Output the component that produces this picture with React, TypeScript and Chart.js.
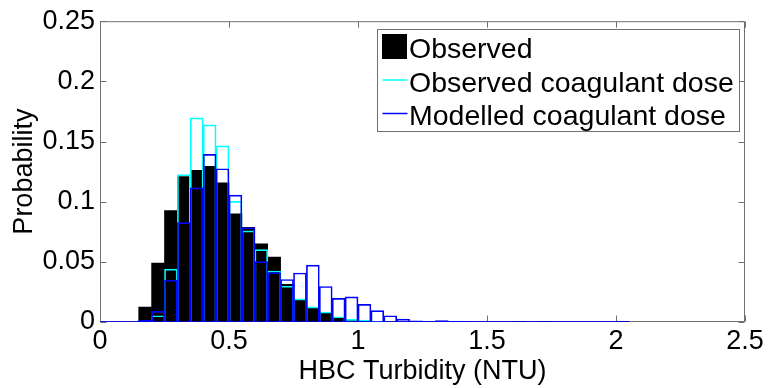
import React, { useEffect, useRef } from 'react';
import { Chart, registerables } from 'chart.js';

Chart.register(...registerables);

// ---- data ----
const binStarts = [
  0, 0.05, 0.1, 0.15, 0.2, 0.25, 0.3, 0.35, 0.4, 0.45,
  0.5, 0.55, 0.6, 0.65, 0.7, 0.75, 0.8, 0.85, 0.9, 0.95,
  1.0, 1.05, 1.1, 1.15, 1.2, 1.25, 1.3, 1.35, 1.4, 1.45,
  1.5, 1.55, 1.6, 1.65, 1.7, 1.75, 1.8, 1.85, 1.9, 1.95,
  2.0,
];
const binWidth = 0.05;

const observed = [
  0, 0, 0, 0.0123, 0.049, 0.0927, 0.1208, 0.1261, 0.1294, 0.1156,
  0.0898, 0.0787, 0.065, 0.0539, 0.0314, 0.0182, 0.0118, 0.0072, 0.0036, 0.0022,
  0.0008, 0.0004, 0, 0, 0, 0, 0, 0, 0, 0,
  0, 0, 0.0005, 0, 0.0005, 0, 0, 0, 0, 0,
  0.0005,
];

const observedDose = [
  0, 0, 0, 0, 0.0052, 0.044, 0.1225, 0.1696, 0.1638, 0.1464,
  0.1002, 0.0757, 0.0601, 0.0424, 0.0297, 0.0192, 0.0126, 0.0083, 0.0044, 0.0022,
  0.0016, 0.0005, 0, 0, 0, 0, 0, 0, 0, 0,
  0, 0, 0, 0, 0, 0, 0, 0, 0, 0,
  0,
];

const modelledDose = [
  0, 0, 0, 0.0015, 0.0088, 0.0347, 0.0826, 0.1115, 0.1393, 0.1274,
  0.1055, 0.0785, 0.0502, 0.0411, 0.0353, 0.0407, 0.0473, 0.0295, 0.0196, 0.0209,
  0.0146, 0.0094, 0.0052, 0.0024, 0.001, 0.0004, 0.0011, 0.0005, 0.0003, 0,
  0, 0, 0, 0, 0, 0, 0, 0, 0, 0,
  0,
];

const baselineExtent = [0, 2.05];

const xTickValues = [0, 0.5, 1, 1.5, 2, 2.5];
const xTickLabels = ['0', '0.5', '1', '1.5', '2', '2.5'];
const yTickValues = [0, 0.05, 0.1, 0.15, 0.2, 0.25];
const yTickLabels = ['0', '0.05', '0.1', '0.15', '0.2', '0.25'];

const legendLabels = ['Observed', 'Observed coagulant dose', 'Modelled coagulant dose'];
const xTitle = 'HBC Turbidity (NTU)';
const yTitle = 'Probability';

// ---- styles ----
const FONT = '"Liberation Sans", Arial, Helvetica, sans-serif';
const BLACK = '#000000';
const CYAN = '#00ffff';
const BLUE = '#0000ff';
const FRAME = '#707070';

const toPoints = (vals: number[]) =>
  binStarts.map((s, i) => ({ x: s + binWidth / 2, y: vals[i] }));

const framePlugin = {
  id: 'matlabFrame',
  beforeDatasetsDraw(chart: any) {
    const { ctx, chartArea: a, scales } = chart;
    const L = a.left + 0.5;
    const R = a.right - 0.5;
    const T = a.top + 0.5;
    const B = a.bottom - 0.5;
    const tl = 6;
    ctx.save();
    ctx.strokeStyle = FRAME;
    ctx.lineWidth = 1;
    ctx.strokeRect(L, T, R - L, B - T);
    ctx.beginPath();
    xTickValues.forEach((v) => {
      const px = Math.round(scales.x.getPixelForValue(v)) + 0.5;
      ctx.moveTo(px, B);
      ctx.lineTo(px, B - tl);
      ctx.moveTo(px, T);
      ctx.lineTo(px, T + tl);
    });
    yTickValues.forEach((v) => {
      const py = Math.round(scales.y.getPixelForValue(v)) + 0.5;
      ctx.moveTo(L, py);
      ctx.lineTo(L + tl, py);
      ctx.moveTo(R, py);
      ctx.lineTo(R - tl, py);
    });
    ctx.stroke();
    ctx.restore();
  },
};

const legendPlugin = {
  id: 'boxLegend',
  afterDraw(chart: any) {
    const { ctx, chartArea: a } = chart;
    ctx.save();
    ctx.font = `28.5px ${FONT}`;
    const maxW = Math.max(...legendLabels.map((t) => ctx.measureText(t).width));
    const right = Math.round(a.right - 6) + 0.5;
    const textX = right - 7 - maxW;
    const left = Math.round(textX - 31) + 0.5;
    const top = Math.round(a.top + 8) + 0.5;
    const height = 102;
    ctx.fillStyle = '#ffffff';
    ctx.fillRect(left, top, right - left, height);
    ctx.strokeStyle = FRAME;
    ctx.lineWidth = 1;
    ctx.strokeRect(left, top, right - left, height);

    const baselines = [top + 28.5, top + 62, top + 95.5];
    const colors = [BLACK, CYAN, BLUE];
    ctx.fillStyle = BLACK;
    ctx.fillRect(left + 4.5, top + 4.5, 25, 25);
    [1, 2].forEach((i) => {
      ctx.strokeStyle = colors[i];
      ctx.lineWidth = 1.5;
      ctx.beginPath();
      const y = baselines[i] - 11.5;
      ctx.moveTo(left + 5, y);
      ctx.lineTo(left + 30, y);
      ctx.stroke();
    });
    ctx.fillStyle = BLACK;
    ctx.textBaseline = 'alphabetic';
    ctx.textAlign = 'left';
    legendLabels.forEach((t, i) => ctx.fillText(t, left + 31.5, baselines[i]));
    ctx.restore();
  },
};

export default function App() {
  const canvasRef = useRef<HTMLCanvasElement | null>(null);

  useEffect(() => {
    const canvas = canvasRef.current;
    if (!canvas) return;
    const tickFont = { family: FONT, size: 27 };
    const barCommon = {
      grouped: false,
      barPercentage: 1,
      categoryPercentage: 1,
    };
    const chart = new Chart(canvas, {
      type: 'bar',
      data: {
        datasets: [
          {
            type: 'line',
            label: 'baseline',
            data: baselineExtent.map((x) => ({ x, y: 0 })),
            borderColor: BLUE,
            borderWidth: 1.5,
            pointRadius: 0,
            order: 0,
          } as any,
          {
            label: legendLabels[2],
            data: toPoints(modelledDose),
            backgroundColor: 'rgba(0,0,0,0)',
            borderColor: BLUE,
            borderWidth: 1,
            order: 1,
            ...barCommon,
          },
          {
            label: legendLabels[1],
            data: toPoints(observedDose),
            backgroundColor: 'rgba(0,0,0,0)',
            borderColor: CYAN,
            borderWidth: 1,
            order: 2,
            ...barCommon,
          },
          {
            label: legendLabels[0],
            data: toPoints(observed),
            backgroundColor: BLACK,
            borderColor: BLACK,
            borderWidth: 0,
            order: 3,
            ...barCommon,
          },
        ],
      },
      options: {
        responsive: false,
        animation: false,
        events: [],
        layout: { padding: { left: 0, right: 24, top: 19, bottom: 0 } },
        plugins: {
          legend: { display: false },
          tooltip: { enabled: false },
        },
        scales: {
          x: {
            type: 'linear',
            min: 0,
            max: 2.5,
            offset: false,
            grid: { display: false, drawTicks: false, offset: false },
            border: { display: false },
            afterBuildTicks: (scale: any) => {
              scale.ticks = xTickValues.map((v) => ({ value: v }));
            },
            ticks: {
              font: tickFont,
              color: BLACK,
              padding: 3,
              maxRotation: 0,
              autoSkip: false,
              callback: (_v: any, i: number) => xTickLabels[i],
            },
            title: {
              display: true,
              text: xTitle,
              font: tickFont,
              color: BLACK,
              padding: { top: 0, bottom: 0 },
            },
            afterFit: (scale: any) => {
              scale.height = 66;
            },
          },
          y: {
            type: 'linear',
            min: 0,
            max: 0.25,
            grid: { display: false, drawTicks: false },
            border: { display: false },
            afterBuildTicks: (scale: any) => {
              scale.ticks = yTickValues.map((v) => ({ value: v }));
            },
            ticks: {
              font: tickFont,
              color: BLACK,
              padding: 5,
              autoSkip: false,
              callback: (_v: any, i: number) => yTickLabels[i],
            },
            title: {
              display: true,
              text: yTitle,
              font: tickFont,
              color: BLACK,
              padding: { top: 8, bottom: 0 },
            },
            afterFit: (scale: any) => {
              scale.width = 100;
            },
          },
        },
      } as any,
      plugins: [framePlugin, legendPlugin],
    });
    return () => chart.destroy();
  }, []);

  return (
    <div style={{ position: 'fixed', left: 0, top: 0, width: 769, height: 388, background: '#fff' }}>
      <canvas ref={canvasRef} width={769} height={388} style={{ display: 'block' }} />
    </div>
  );
}
